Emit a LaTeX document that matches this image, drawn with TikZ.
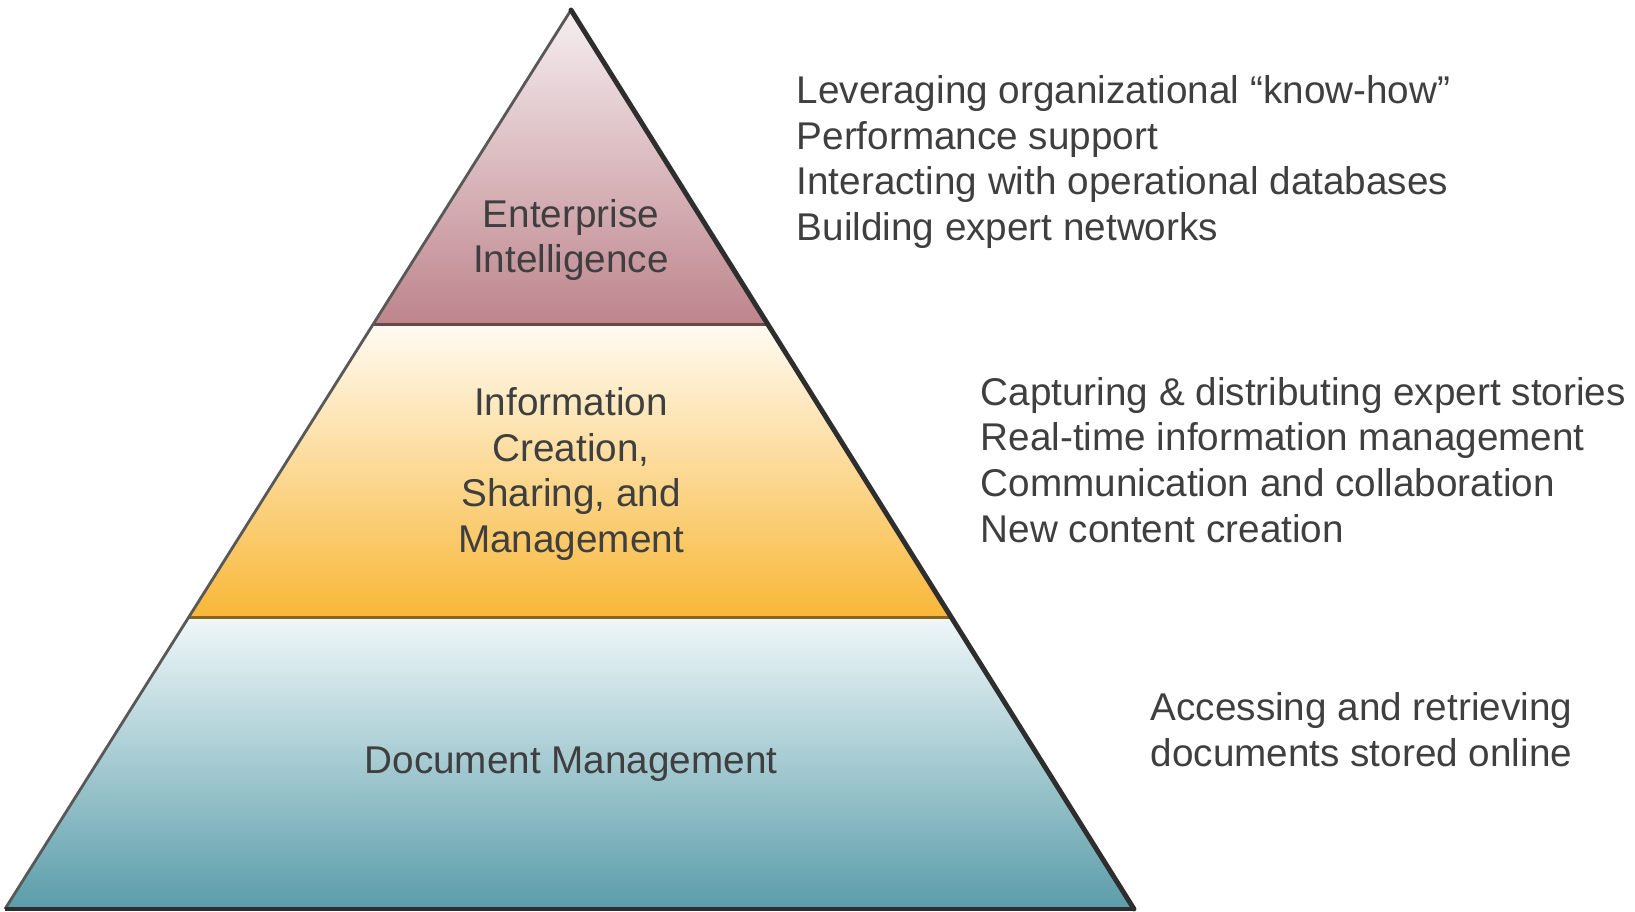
\documentclass[tikz,border=0pt]{standalone}
\usepackage{fontspec}
\setmainfont{Liberation Sans}
\usetikzlibrary{calc}

\definecolor{inkgray}{HTML}{3F3F3F}
\definecolor{edgegray}{HTML}{2E2E2E}
\definecolor{eiTop}{HTML}{F5EEF0}
\definecolor{eiBot}{HTML}{BE848C}
\definecolor{icTop}{HTML}{FFFBF2}
\definecolor{icBot}{HTML}{F8B737}
\definecolor{dmTop}{HTML}{EFF7F9}
\definecolor{dmBot}{HTML}{5A9DA9}

\begin{document}
\begin{tikzpicture}[x=0.01cm, y=-0.01cm,
    layertext/.style={font=\fontsize{11}{13}\selectfont, text=inkgray, align=center, inner sep=0pt},
    notetext/.style={font=\fontsize{11}{13}\selectfont, text=inkgray, align=left, anchor=west, inner sep=0pt}]
\useasboundingbox (0,0) rectangle (1635,912);

% corners of the pyramid and the two cuts
\coordinate (apex) at (571,10);
\coordinate (bl) at (5,909);
\coordinate (br) at (1134,909);
\coordinate (l1) at ($(apex)!0.350!(bl)$);
\coordinate (r1) at ($(apex)!0.350!(br)$);
\coordinate (l2) at ($(apex)!0.676!(bl)$);
\coordinate (r2) at ($(apex)!0.676!(br)$);

% layers
\shade[top color=eiTop, bottom color=eiBot] (apex) -- (r1) -- (l1) -- cycle;
\shade[top color=icTop, bottom color=icBot] (l1) -- (r1) -- (r2) -- (l2) -- cycle;
\shade[top color=dmTop, bottom color=dmBot] (l2) -- (r2) -- (br) -- (bl) -- cycle;

\draw[eiBot!55!black, line width=0.7pt] (l1) -- (r1);
\draw[icBot!55!black, line width=0.7pt] (l2) -- (r2);

% outline, heavier on the right and at the base
\draw[edgegray!80, line width=0.8pt] (bl) -- (apex);
\draw[edgegray, line width=1.4pt, line cap=round] (apex) -- (br);
\draw[edgegray, line width=1.3pt] (bl) -- (br);

% layer names
\node[layertext] (ei) at (571,240) {Enterprise\\Intelligence};
\node[layertext] (ic) at (571,474) {Information\\Creation,\\Sharing, and\\Management};
\node[layertext] (dm) at (571,764) {Document Management};

% what each layer covers
\node[notetext] (eiNotes) at (796,162) {Leveraging organizational “know-how”\\Performance support\\Interacting with operational databases\\Building expert networks};
\node[notetext] (icNotes) at (980,460) {Capturing \& distributing expert stories\\Real-time information management\\Communication and collaboration\\New content creation};
\node[notetext] (dmNotes) at (1150,730) {Accessing and retrieving\\documents stored online};
\end{tikzpicture}
\end{document}
